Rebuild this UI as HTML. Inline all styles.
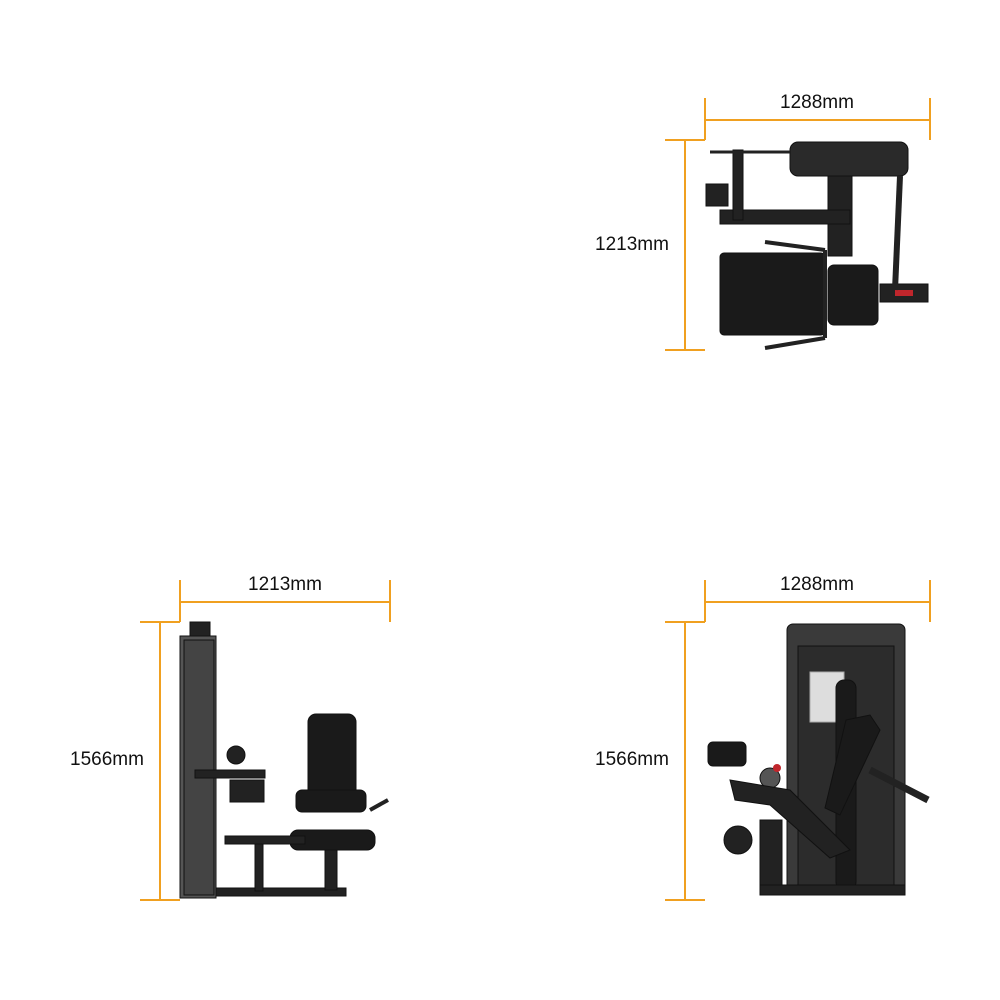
<!DOCTYPE html>
<html><head><meta charset="utf-8"><style>
html,body{margin:0;padding:0;background:#fff;}
svg{display:block;}
text{font-family:"Liberation Sans",sans-serif;font-size:19px;fill:#111;}
</style></head><body>
<svg width="1000" height="1000" viewBox="0 0 1000 1000">
<g stroke="#f0a020" stroke-width="2" fill="none">
<!-- top view dims -->
<line x1="705" y1="120" x2="930" y2="120"/><line x1="705" y1="98" x2="705" y2="140"/><line x1="930" y1="98" x2="930" y2="140"/>
<line x1="685" y1="140" x2="685" y2="350"/><line x1="665" y1="140" x2="705" y2="140"/><line x1="665" y1="350" x2="705" y2="350"/>
<!-- bottom left -->
<line x1="180" y1="602" x2="390" y2="602"/><line x1="180" y1="580" x2="180" y2="622"/><line x1="390" y1="580" x2="390" y2="622"/>
<line x1="160" y1="622" x2="160" y2="900"/><line x1="140" y1="622" x2="180" y2="622"/><line x1="140" y1="900" x2="180" y2="900"/>
<!-- bottom right -->
<line x1="705" y1="602" x2="930" y2="602"/><line x1="705" y1="580" x2="705" y2="622"/><line x1="930" y1="580" x2="930" y2="622"/>
<line x1="685" y1="622" x2="685" y2="900"/><line x1="665" y1="622" x2="705" y2="622"/><line x1="665" y1="900" x2="705" y2="900"/>
</g>
<text x="817" y="108" text-anchor="middle">1288mm</text>
<text x="632" y="250" text-anchor="middle">1213mm</text>
<text x="285" y="590" text-anchor="middle">1213mm</text>
<text x="107" y="765" text-anchor="middle">1566mm</text>
<text x="817" y="590" text-anchor="middle">1288mm</text>
<text x="632" y="765" text-anchor="middle">1566mm</text>

<!-- top view machine -->
<g fill="#1c1c1c" stroke="#111">
<rect x="790" y="142" width="118" height="34" rx="8" fill="#2a2a2a"/>
<rect x="828" y="176" width="24" height="80" fill="#222"/>
<rect x="720" y="210" width="130" height="14" fill="#222"/>
<rect x="720" y="253" width="105" height="82" rx="4" fill="#1a1a1a"/>
<rect x="828" y="265" width="50" height="60" rx="6" fill="#1a1a1a"/>
<rect x="880" y="284" width="48" height="18" fill="#222"/>
<rect x="895" y="290" width="18" height="6" fill="#c0262c" stroke="none"/>
<rect x="706" y="184" width="22" height="22" fill="#222"/>
<rect x="733" y="150" width="10" height="70" fill="#222"/>
<line x1="710" y1="152" x2="790" y2="152" stroke="#222" stroke-width="3"/>
<line x1="900" y1="176" x2="895" y2="290" stroke="#222" stroke-width="6"/>
<line x1="765" y1="242" x2="825" y2="250" stroke="#222" stroke-width="4"/>
<line x1="765" y1="348" x2="825" y2="338" stroke="#222" stroke-width="4"/>
<line x1="825" y1="250" x2="825" y2="338" stroke="#222" stroke-width="4"/>
</g>

<!-- side view machine -->
<g fill="#1c1c1c" stroke="#111">
<rect x="190" y="622" width="20" height="14" fill="#222"/>
<rect x="180" y="636" width="36" height="262" fill="#555"/>
<rect x="184" y="640" width="30" height="255" fill="#444"/>
<rect x="308" y="714" width="48" height="84" rx="8" fill="#1a1a1a"/>
<rect x="296" y="790" width="70" height="22" rx="6" fill="#1a1a1a"/>
<rect x="290" y="830" width="85" height="20" rx="8" fill="#1a1a1a"/>
<rect x="216" y="888" width="130" height="8" fill="#222"/>
<rect x="325" y="850" width="12" height="40" fill="#222"/>
<rect x="255" y="836" width="8" height="55" fill="#222"/>
<rect x="225" y="836" width="80" height="8" fill="#222"/>
<rect x="195" y="770" width="70" height="8" fill="#222"/>
<rect x="230" y="780" width="34" height="22" fill="#222"/>
<circle cx="236" cy="755" r="9" fill="#222"/>
<line x1="370" y1="810" x2="388" y2="800" stroke="#222" stroke-width="4"/>
</g>

<!-- front view machine -->
<g fill="#1c1c1c" stroke="#111">
<rect x="787" y="624" width="118" height="268" rx="6" fill="#3a3a3a"/>
<rect x="798" y="646" width="96" height="244" fill="#2c2c2c"/>
<rect x="810" y="672" width="34" height="50" fill="#ddd" stroke="#aaa"/>
<rect x="836" y="680" width="20" height="210" rx="8" fill="#1a1a1a"/>
<rect x="708" y="742" width="38" height="24" rx="5" fill="#1a1a1a"/>
<circle cx="738" cy="840" r="14" fill="#222"/>
<circle cx="770" cy="778" r="10" fill="#555"/>
<polygon points="730,780 790,790 850,850 830,858 770,805 735,800" fill="#222"/>
<polygon points="846,720 870,715 880,730 840,815 825,808" fill="#1a1a1a"/>
<line x1="870" y1="770" x2="928" y2="800" stroke="#222" stroke-width="7"/>
<rect x="760" y="820" width="22" height="72" fill="#222"/>
<rect x="760" y="885" width="145" height="10" fill="#222"/>
<circle cx="777" cy="768" r="4" fill="#c0262c" stroke="none"/>
</g>
</svg>
</body></html>
